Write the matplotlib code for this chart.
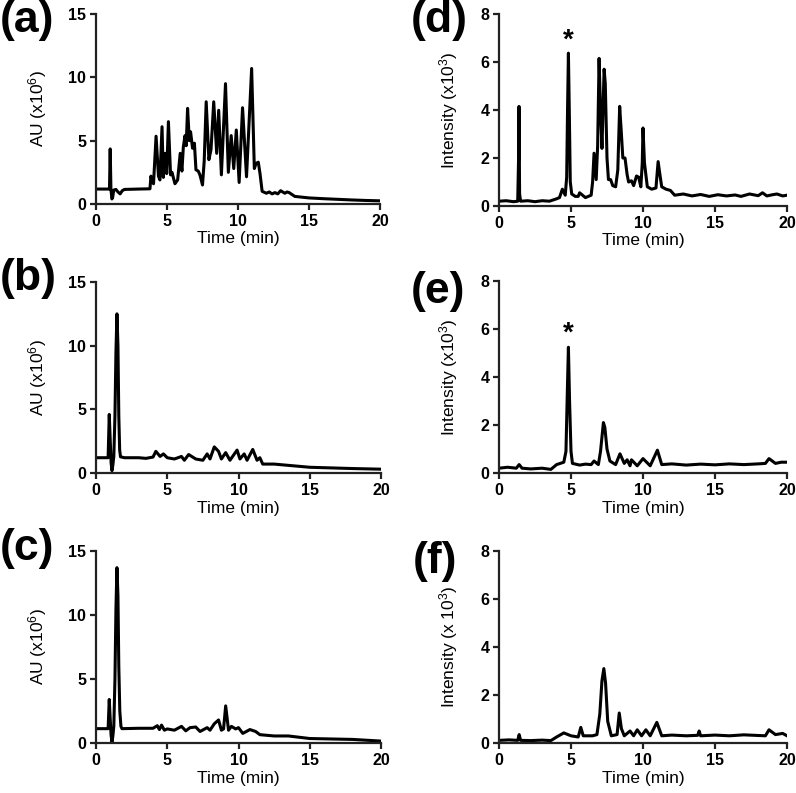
import matplotlib
matplotlib.use('Agg')
import matplotlib.pyplot as plt

plt.rcParams['font.family'] = ['Liberation Sans', 'DejaVu Sans']
plt.rcParams['mathtext.default'] = 'regular'

# chromatogram traces: time (min) and signal
time_a = [0, 0.95, 1.0, 1.05, 1.12, 1.17, 1.25, 1.4, 1.55, 1.7, 1.85, 2.0, 3.0, 3.8, 3.87, 3.95, 4.05,
          4.23, 4.4, 4.5, 4.65, 4.74, 4.88, 4.98, 5.1, 5.25, 5.35, 5.56, 5.75, 5.93, 6.05, 6.15, 6.27,
          6.35, 6.45, 6.57, 6.66, 6.8, 6.93, 7.04, 7.2, 7.32, 7.5, 7.62, 7.76, 7.95, 8.1, 8.29, 8.5,
          8.64, 8.83, 9.12, 9.32, 9.52, 9.7, 9.88, 10.08, 10.32, 10.6, 10.96, 11.15, 11.27, 11.43,
          11.55, 11.7, 12.0, 12.2, 12.4, 12.6, 12.8, 13.0, 13.3, 13.45, 13.6, 14.0, 15.0, 16.0, 17.0,
          18.0, 19.0, 20.0]
au_a = [1.18, 1.18, 4.35, 1.2, 0.4, 0.5, 1.1, 1.15, 0.95, 0.8, 1.05, 1.15, 1.18, 1.2, 2.2, 1.8, 1.6,
        5.35, 2.2, 1.9, 6.1, 2.1, 4.0, 2.4, 6.5, 2.3, 2.5, 1.6, 1.9, 4.0, 2.6, 4.5, 5.4,
        4.6, 7.55, 5.0, 5.7, 4.4, 4.8, 2.7, 2.6, 2.3, 1.5, 3.4, 8.07, 3.5, 4.3, 8.07, 4.0,
        7.4, 2.3, 9.5, 2.5, 5.4, 2.8, 5.84, 1.7, 7.6, 2.15, 10.7, 2.8, 3.2, 3.3,
        2.4, 1.0, 0.85, 0.95, 0.8, 0.9, 0.8, 1.05, 0.85, 0.95, 0.9, 0.6, 0.48, 0.42, 0.37,
        0.32, 0.28, 0.25]

time_b = [0, 0.85, 0.93, 1.0, 1.06, 1.12, 1.18, 1.25, 1.33, 1.4, 1.47, 1.54, 1.6, 1.66, 1.72, 2.0, 3.0,
          3.5, 4.0, 4.2, 4.5, 4.73, 5.0, 5.5, 6.0, 6.2, 6.5, 7.0, 7.5, 7.8, 8.0, 8.3, 8.6, 8.8, 9.1,
          9.4, 9.9, 10.1, 10.4, 10.6, 11.0, 11.3, 11.5, 11.7, 12.5, 13.0, 13.5, 15.0, 18.0, 20.0]
au_b = [1.2, 1.2, 4.6, 2.5, 0.8, 0.18, 0.6, 1.3, 4.5, 9.5, 12.5, 10.0, 4.5, 1.8, 1.27, 1.2, 1.2,
        1.15, 1.25, 1.7, 1.3, 1.5, 1.2, 1.1, 1.3, 1.0, 1.45, 1.1, 1.0, 1.5, 1.1, 2.05, 1.7, 1.1, 1.6,
        1.0, 1.8, 1.1, 1.5, 1.0, 1.85, 1.0, 1.2, 0.7, 0.7, 0.65, 0.6, 0.45, 0.35, 0.3]

time_c = [0, 0.85, 0.93, 1.0, 1.06, 1.12, 1.18, 1.25, 1.33, 1.4, 1.47, 1.54, 1.6, 1.67, 1.75, 1.82, 3.0,
          4.0, 4.3, 4.45, 4.6, 4.8, 5.0, 5.5, 6.0, 6.3, 6.6, 7.0, 7.3, 7.8, 8.0, 8.3, 8.6, 8.8, 8.95,
          9.1, 9.3, 9.5, 9.8, 10.0, 10.3, 10.8, 11.2, 11.5, 12.5, 13.5, 15.0, 18.0, 20.0]
au_c = [1.12, 1.12, 3.4, 1.8, 0.6, 0.08, 0.5, 1.3, 5.0, 10.5, 13.7, 11.5, 6.0, 2.5, 1.3, 1.12, 1.15,
        1.15, 1.35, 1.05, 1.4, 1.0, 1.1, 1.0, 1.3, 0.95, 1.2, 1.25, 0.9, 1.2, 1.0, 1.5, 1.8, 1.0, 1.1,
        2.9, 1.0, 1.3, 1.1, 1.2, 0.75, 1.05, 0.9, 0.65, 0.55, 0.55, 0.35, 0.28, 0.15]

time_d = [0, 0.5, 1.0, 1.3, 1.36, 1.39, 1.43, 1.5, 2.0, 2.5, 3.0, 3.5, 4.0, 4.2, 4.4, 4.6, 4.7, 4.76,
          4.82, 4.88, 4.95, 5.05, 5.3, 5.5, 5.6, 6.0, 6.4, 6.5, 6.6, 6.75, 6.85, 6.95, 7.05, 7.15, 7.3,
          7.38, 7.5, 7.6, 7.75, 7.9, 8.1, 8.25, 8.38, 8.5, 8.6, 8.75, 8.9, 9.0, 9.2, 9.35, 9.55, 9.7,
          9.85, 9.95, 10.0, 10.1, 10.3, 10.6, 10.9, 11.05, 11.2, 11.3, 11.6, 11.9, 12.2, 12.8, 13.4,
          14.0, 14.6, 15.2, 15.8, 16.4, 16.8, 17.4, 18.0, 18.3, 18.6, 19.0, 19.3, 19.7, 20.0]
int_d = [0.2, 0.22, 0.18, 0.2, 2.0, 4.15, 0.5, 0.2, 0.22, 0.18, 0.22, 0.2, 0.3, 0.35, 0.7, 0.45, 1.2,
         4.0, 6.37, 4.0, 1.0, 0.5, 0.4, 0.4, 0.55, 0.35, 0.45, 1.0, 2.2, 1.1, 2.5, 6.15, 4.0, 2.4, 5.7,
         5.1, 2.0, 1.1, 1.1, 0.85, 0.8, 1.5, 4.15, 3.0, 2.0, 2.0, 1.3, 1.0, 1.05, 0.85, 1.25, 1.2,
         0.8, 1.8, 3.25, 1.8, 0.8, 0.7, 0.75, 1.85, 1.2, 0.8, 0.7, 0.65, 0.45, 0.5, 0.42, 0.48, 0.4,
         0.47, 0.42, 0.46, 0.4, 0.5, 0.43, 0.55, 0.42, 0.47, 0.5, 0.42, 0.45]

time_e = [0, 0.6, 1.2, 1.4, 1.6, 2.2, 3.0, 3.6, 4.0, 4.5, 4.65, 4.75, 4.82, 4.9, 5.0, 5.1, 5.6, 6.0, 6.4,
          6.6, 6.9, 7.05, 7.25, 7.35, 7.5, 7.7, 8.1, 8.4, 8.7, 8.9, 9.1, 9.2, 9.6, 10.0, 10.5, 11.0,
          11.3, 12.0, 13.0, 14.0, 15.0, 16.0, 17.0, 18.0, 18.5, 18.75, 19.2, 19.6, 20.0]
int_e = [0.2, 0.24, 0.2, 0.35, 0.2, 0.17, 0.2, 0.15, 0.35, 0.45, 0.9, 3.5, 5.24, 3.0, 0.9, 0.4, 0.33,
         0.37, 0.35, 0.5, 0.35, 0.9, 2.1, 1.9, 1.0, 0.5, 0.35, 0.8, 0.4, 0.55, 0.3, 0.55, 0.3, 0.6,
         0.3, 0.95, 0.35, 0.38, 0.33, 0.37, 0.34, 0.38, 0.35, 0.38, 0.4, 0.6, 0.4, 0.45, 0.45]

time_f = [0, 0.7, 1.3, 1.4, 1.5, 2.2, 3.0, 3.6, 4.0, 4.5, 5.0, 5.5, 5.68, 5.85, 6.5, 6.8, 7.0, 7.15, 7.28,
          7.4, 7.55, 7.8, 8.2, 8.35, 8.5, 8.7, 9.1, 9.35, 9.6, 9.9, 10.2, 10.5, 10.96, 11.3, 12.0, 13.0,
          13.8, 13.9, 14.0, 15.0, 16.0, 17.0, 18.5, 18.75, 19.2, 19.7, 20.0]
int_f = [0.11, 0.13, 0.11, 0.35, 0.11, 0.1, 0.12, 0.1, 0.25, 0.42, 0.3, 0.25, 0.65, 0.3, 0.3, 0.35, 1.2,
         2.6, 3.1, 2.5, 0.9, 0.3, 0.35, 1.25, 0.6, 0.3, 0.5, 0.3, 0.55, 0.3, 0.55, 0.3, 0.86, 0.3, 0.33,
         0.3, 0.32, 0.5, 0.3, 0.33, 0.3, 0.34, 0.3, 0.55, 0.35, 0.4, 0.3]

panels = [
    ('(a)', time_a, au_a, 'AU (x10$^{6}$)', 15, [0, 5, 10, 15], None),
    ('(b)', time_b, au_b, 'AU (x10$^{6}$)', 15, [0, 5, 10, 15], None),
    ('(c)', time_c, au_c, 'AU (x10$^{6}$)', 15, [0, 5, 10, 15], None),
    ('(d)', time_d, int_d, 'Intensity (x10$^{3}$)', 8, [0, 2, 4, 6, 8], (4.82, 6.9)),
    ('(e)', time_e, int_e, 'Intensity (x10$^{3}$)', 8, [0, 2, 4, 6, 8], (4.82, 5.8)),
    ('(f)', time_f, int_f, 'Intensity (x 10$^{3}$)', 8, [0, 2, 4, 6, 8], None),
]

W, H = 796, 793
fig = plt.figure(figsize=(W / 100, H / 100), dpi=100)

# axes boxes in pixels: left, top, right, bottom
boxes = [(96, 14, 380, 204), (96, 282, 381, 473), (96, 551, 381, 743),
         (499, 14, 787, 206), (499, 281, 787, 473), (499, 551, 787, 743)]
label_pos = [(0, 0), (0, 258), (0, 528), (411, 0), (411, 271), (413, 541)]

for (name, t, y, ylab, ymax, yt, star), (l, tp, r, b), (lx, ly) in zip(panels, boxes, label_pos):
    ax = fig.add_axes([l / W, 1 - b / H, (r - l) / W, (b - tp) / H])
    ax.plot(t, y, color='black', lw=2.2, solid_joinstyle='round')
    ax.set_xlim(0, 20)
    ax.set_ylim(0, ymax)
    ax.set_xticks([0, 5, 10, 15, 20])
    ax.set_yticks(yt)
    for s in ['top', 'right']:
        ax.spines[s].set_visible(False)
    for s in ['left', 'bottom']:
        ax.spines[s].set_linewidth(1.6)
        ax.spines[s].set_color('#222222')
    ax.tick_params(width=1.6, length=4, labelsize=11.5, pad=3, color='#222222')
    for lab in ax.get_xticklabels() + ax.get_yticklabels():
        lab.set_fontweight('bold')
    ax.set_xlabel('Time (min)', fontsize=12.5, labelpad=2)
    ax.set_ylabel(ylab, fontsize=12.5)
    if l < 400:
        ax.yaxis.set_label_coords(-0.165, 0.5)
    else:
        ax.yaxis.set_label_coords(-0.135, 0.5)
    if star:
        ax.text(star[0], star[1], '*', fontsize=20, fontweight='bold', ha='center', va='center')
    fig.text(lx / W, 1 - ly / H, name, fontsize=32, fontweight='bold', ha='left', va='top')

fig.savefig('out.png', dpi=100)
